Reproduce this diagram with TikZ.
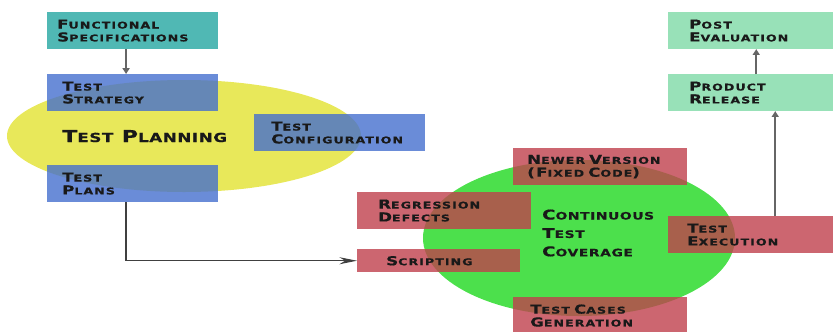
\documentclass[tikz,border=0pt]{standalone}
\usepackage{fontspec}
\usetikzlibrary{arrows.meta}
\newfontfamily\lblfont[FakeStretch=1.35,LetterSpace=11,FakeBold=0.6]{DejaVu Sans}
\makeatletter
\newcommand\capw[2]{#1{\fontsize{\strip@pt\dimexpr0.76\dimexpr\f@size pt\relax\relax}{1em}\selectfont#2}}
\makeatother
\definecolor{yellowc}{RGB}{232,232,90}
\definecolor{greenc}{RGB}{76,224,76}
\definecolor{bluec}{RGB}{69,111,206}
\definecolor{redc}{RGB}{191,64,76}
\definecolor{tealc}{RGB}{36,166,161}
\definecolor{mintc}{RGB}{126,217,166}
\definecolor{inkc}{RGB}{25,25,25}
\tikzset{
  tbox/.style={rectangle, anchor=north west, fill opacity=0.8, text opacity=1,
    align=left, inner ysep=0pt, minimum height=1.1cm, text=inkc,
    font=\lblfont\bfseries\fontsize{10.5}{11}\selectfont},
  conn/.style={draw=black!60, line width=1.5pt, -{Triangle[length=5pt,width=6pt]}},
  longconn/.style={draw=black!75, line width=1pt, -{Stealth[length=15pt,width=6pt]}}
}
\begin{document}
\begin{tikzpicture}[x=0.03cm,y=-0.03cm]
\clip (0,0) rectangle (833,331);

% Draw the two ellipses
\fill[yellowc] (184,136) ellipse [x radius=5.31cm, y radius=1.68cm];
\fill[greenc] (579,238) ellipse [x radius=4.68cm, y radius=2.34cm];

% Planning side
\node[tbox, fill=tealc, text width=4.53cm, inner xsep=0.3cm] (fs) at (47,12) {\capw{F}{UNCTIONAL}\\\capw{S}{PECIFICATIONS}};
\node[tbox, fill=bluec, text width=4.23cm, inner xsep=0.45cm] (ts) at (47,74) {\capw{T}{EST}\\\capw{S}{TRATEGY}};
\node[tbox, fill=bluec, text width=4.23cm, inner xsep=0.45cm] (tp) at (47,165) {\capw{T}{EST}\\\capw{P}{LANS}};
\node[tbox, fill=bluec, text width=4.11cm, inner xsep=0.51cm] (tc) at (254,114) {\capw{T}{EST}\\\capw{C}{ONFIGURATION}};
\node[anchor=base west, inner sep=0pt, text=inkc, font=\lblfont\bfseries\fontsize{14}{16}\selectfont\addfontfeatures{LetterSpace=4}] (plan) at (62,142) {\capw{T}{EST} \capw{P}{LANNING}};

% Coverage side
\node[tbox, fill=redc, text width=4.38cm, inner xsep=0.42cm] (nv) at (513,148) {\capw{N}{EWER} \capw{V}{ERSION}\\(\capw{F}{IXED} \capw{C}{ODE})};
\node[tbox, fill=redc, text width=3.96cm, inner xsep=0.63cm] (rd) at (357,192) {\capw{R}{EGRESSION}\\\capw{D}{EFECTS}};
\node[tbox, fill=redc, text width=3.15cm, inner xsep=0.87cm, minimum height=0.69cm] (sc) at (357,249) {\capw{S}{CRIPTING}};
\node[tbox, fill=redc, text width=5.28cm, inner xsep=0.57cm] (te) at (668,216) {\capw{T}{EST}\\\capw{E}{XECUTION}};
\node[tbox, fill=redc, text width=4.2cm, inner xsep=0.51cm] (tcg) at (513,297) {\capw{T}{EST} \capw{C}{ASES}\\\capw{G}{ENERATION}};
\node[anchor=west, inner sep=0pt, align=left, text=inkc, font=\lblfont\bfseries\fontsize{11.5}{15.7}\selectfont\addfontfeatures{LetterSpace=6}] (cover) at (542,233) {\capw{C}{ONTINUOUS}\\\capw{T}{EST}\\\capw{C}{OVERAGE}};

% Release side
\node[tbox, fill=mintc, text width=5.16cm, inner xsep=0.63cm] (pe) at (668,12) {\capw{P}{OST}\\\capw{E}{VALUATION}};
\node[tbox, fill=mintc, text width=5.16cm, inner xsep=0.63cm] (pr) at (668,74) {\capw{P}{RODUCT}\\\capw{R}{ELEASE}};

% Connectors
\draw[conn] ([xshift=-0.2cm]fs.south) -- ([xshift=-0.2cm]ts.north);
\draw[longconn] ([xshift=-0.2cm]tp.south) |- (sc.west);
\draw[conn] (te.north) -- (pr.south);
\draw[conn] ([xshift=-0.57cm]pr.north) -- ([xshift=-0.57cm]pe.south);
\end{tikzpicture}
\end{document}
